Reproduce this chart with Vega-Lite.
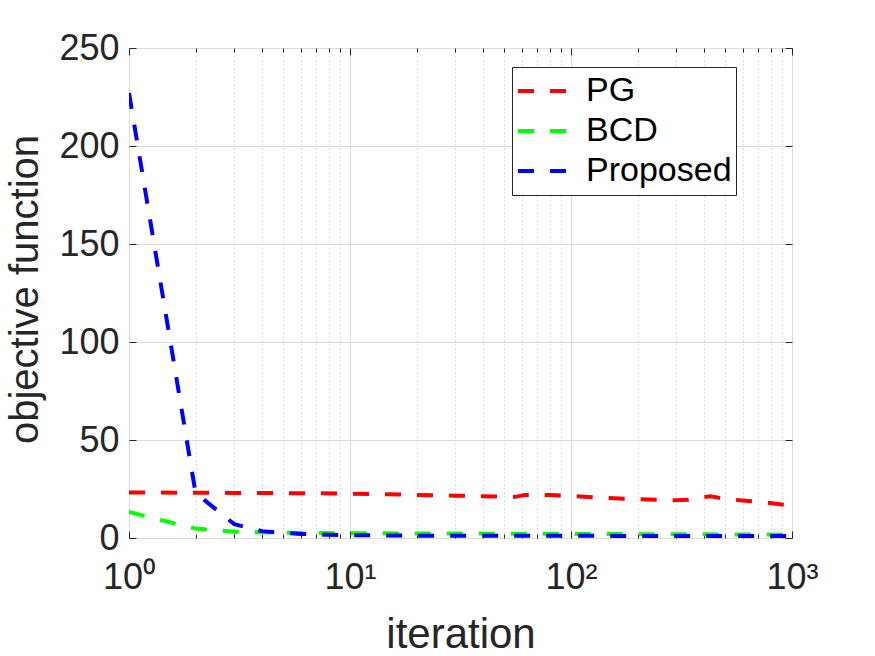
{
  "$schema": "https://vega.github.io/schema/vega-lite/v6.json",
  "width": 663,
  "height": 490,
  "autosize": {"type": "none"},
  "padding": {"left": 129, "top": 48, "right": 83, "bottom": 118},
  "background": "white",
  "config": {
    "view": {"stroke": "#262626", "strokeWidth": 1},
    "font": "Liberation Sans",
    "axis": {"labelFont": "Liberation Sans", "titleFont": "Liberation Sans", "labelColor": "#262626", "titleColor": "#262626", "titleFontWeight": "normal", "domain": false, "tickColor": "#262626"}
  },
  "data": {
    "values": [
      {"method": "PG", "iteration": 1, "value": 23.2},
      {"method": "PG", "iteration": 2, "value": 23.1},
      {"method": "PG", "iteration": 3, "value": 23.0},
      {"method": "PG", "iteration": 5, "value": 22.9},
      {"method": "PG", "iteration": 7, "value": 22.8},
      {"method": "PG", "iteration": 10, "value": 22.6},
      {"method": "PG", "iteration": 15, "value": 22.3},
      {"method": "PG", "iteration": 20, "value": 22.0},
      {"method": "PG", "iteration": 30, "value": 21.6},
      {"method": "PG", "iteration": 45, "value": 21.2},
      {"method": "PG", "iteration": 56, "value": 21.0},
      {"method": "PG", "iteration": 62, "value": 22.0},
      {"method": "PG", "iteration": 80, "value": 21.9},
      {"method": "PG", "iteration": 100, "value": 21.4},
      {"method": "PG", "iteration": 130, "value": 20.7},
      {"method": "PG", "iteration": 180, "value": 20.0},
      {"method": "PG", "iteration": 250, "value": 19.5},
      {"method": "PG", "iteration": 300, "value": 19.2},
      {"method": "PG", "iteration": 340, "value": 19.5},
      {"method": "PG", "iteration": 380, "value": 20.6},
      {"method": "PG", "iteration": 430, "value": 21.3},
      {"method": "PG", "iteration": 500, "value": 19.8},
      {"method": "PG", "iteration": 560, "value": 19.4},
      {"method": "PG", "iteration": 750, "value": 18.2},
      {"method": "PG", "iteration": 1000, "value": 16.5},
      {"method": "BCD", "iteration": 1, "value": 13.3},
      {"method": "BCD", "iteration": 2, "value": 4.8},
      {"method": "BCD", "iteration": 3, "value": 3.2},
      {"method": "BCD", "iteration": 4, "value": 2.9},
      {"method": "BCD", "iteration": 5, "value": 2.7},
      {"method": "BCD", "iteration": 7, "value": 2.5},
      {"method": "BCD", "iteration": 10, "value": 2.4},
      {"method": "BCD", "iteration": 30, "value": 2.3},
      {"method": "BCD", "iteration": 100, "value": 2.1},
      {"method": "BCD", "iteration": 300, "value": 1.9},
      {"method": "BCD", "iteration": 1000, "value": 1.7},
      {"method": "Proposed", "iteration": 1, "value": 227},
      {"method": "Proposed", "iteration": 2, "value": 23},
      {"method": "Proposed", "iteration": 3, "value": 7},
      {"method": "Proposed", "iteration": 4, "value": 3.5},
      {"method": "Proposed", "iteration": 5, "value": 2.6},
      {"method": "Proposed", "iteration": 6, "value": 2.1},
      {"method": "Proposed", "iteration": 7, "value": 1.8},
      {"method": "Proposed", "iteration": 8, "value": 1.6},
      {"method": "Proposed", "iteration": 10, "value": 1.4},
      {"method": "Proposed", "iteration": 20, "value": 1.2},
      {"method": "Proposed", "iteration": 100, "value": 1.1},
      {"method": "Proposed", "iteration": 1000, "value": 1.0}
    ]
  },
  "resolve": {"axis": {"x": "independent", "y": "independent"}},
  "layer": [
    {
      "mark": {"type": "line", "opacity": 0},
      "encoding": {
        "x": {
          "field": "iteration", "type": "quantitative",
          "scale": {"type": "log", "domain": [1, 1000], "nice": false},
          "axis": {
            "orient": "top",
            "values": [1,2,3,4,5,6,7,8,9,10,20,30,40,50,60,70,80,90,100,200,300,400,500,600,700,800,900,1000],
            "labels": false,
            "grid": false,
            "title": null,
            "tickSize": {"condition": {"test": "indexof([1,10,100,1000], datum.value) >= 0", "value": -7}, "value": -4}
          }
        },
        "y": {
          "field": "value", "type": "quantitative",
          "scale": {"domain": [0, 250], "nice": false, "zero": true},
          "axis": {
            "orient": "right",
            "values": [0, 50, 100, 150, 200, 250],
            "labels": false,
            "grid": false,
            "title": null,
            "tickSize": -7
          }
        },
        "detail": {"field": "method"}
      }
    },
    {
      "mark": {"type": "line", "strokeWidth": 4, "strokeDash": [16, 16], "clip": true},
      "encoding": {
        "x": {
          "field": "iteration", "type": "quantitative",
          "axis": {
            "orient": "bottom",
            "values": [1,2,3,4,5,6,7,8,9,10,20,30,40,50,60,70,80,90,100,200,300,400,500,600,700,800,900,1000],
            "labelExpr": "datum.value == 1 ? '10⁰' : datum.value == 10 ? '10¹' : datum.value == 100 ? '10²' : datum.value == 1000 ? '10³' : ''",
            "labelFontSize": 36,
            "labelOverlap": false,
            "labelFlush": false,
            "labelBaseline": "top",
            "labelPadding": 29,
            "grid": true,
            "gridColor": {"condition": {"test": "indexof([1,10,100,1000], datum.value) >= 0", "value": "#dcdcdc"}, "value": "#bdbdbd"},
            "gridDash": {"condition": {"test": "indexof([1,10,100,1000], datum.value) >= 0", "value": []}, "value": [1, 3]},
            "tickSize": {"condition": {"test": "indexof([1,10,100,1000], datum.value) >= 0", "value": -7}, "value": -4},
            "title": "iteration",
            "titleFontSize": 42,
            "titleBaseline": "alphabetic",
            "titleY": 109
          }
        },
        "y": {
          "field": "value", "type": "quantitative",
          "axis": {
            "orient": "left",
            "values": [0, 50, 100, 150, 200, 250],
            "labelFontSize": 36,
            "labelPadding": 17,
            "grid": true,
            "gridColor": "#dcdcdc",
            "tickSize": -7,
            "title": "objective function",
            "titleFontSize": 40,
            "titleBaseline": "alphabetic",
            "titleX": -92,
            "titleY": 241
          }
        },
        "color": {
          "field": "method", "type": "nominal",
          "scale": {"domain": ["PG", "BCD", "Proposed"], "range": ["#ff0000", "#00ff00", "#0000ff"]},
          "legend": {
            "title": null,
            "orient": "none",
            "legendX": 383,
            "legendY": 19,
            "strokeColor": "#262626",
            "fillColor": "white",
            "padding": 4,
            "symbolType": "stroke",
            "symbolSize": 2304,
            "symbolStrokeWidth": 4,
            "symbolDash": [16, 16],
            "clipHeight": 40,
            "rowPadding": 0,
            "labelFontSize": 34,
            "labelColor": "#000000",
            "labelFont": "Liberation Sans",
            "labelOffset": 18
          }
        }
      }
    }
  ]
}
